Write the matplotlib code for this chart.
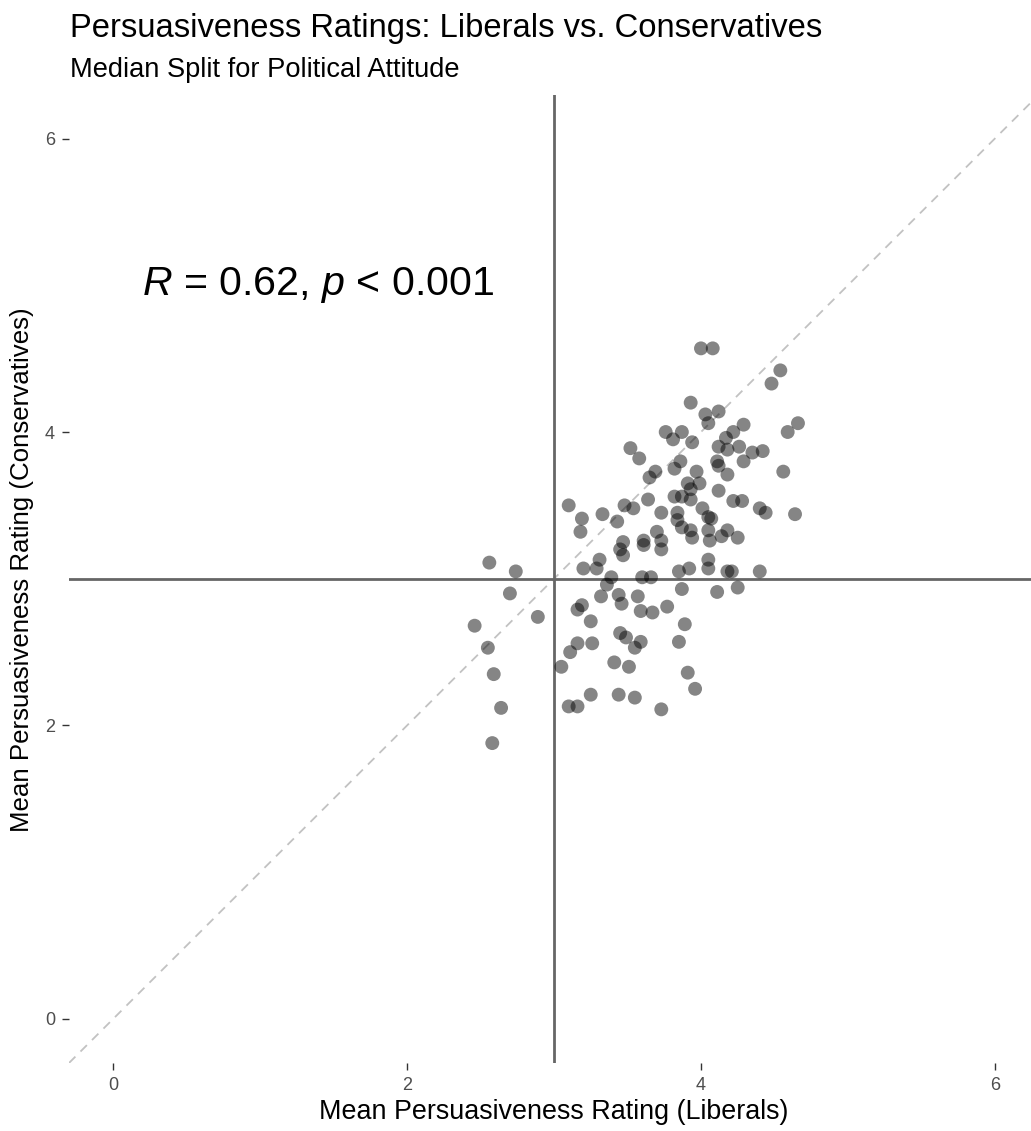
import numpy as np
import matplotlib.pyplot as plt

plt.rcParams["font.family"] = ["Liberation Sans", "DejaVu Sans"]
plt.rcParams["mathtext.fontset"] = "custom"
plt.rcParams["mathtext.rm"] = "Liberation Sans"
plt.rcParams["mathtext.it"] = "Liberation Sans:italic"

# mean persuasiveness per item
liberals = [
    4.00, 4.08, 4.54, 4.48, 3.93, 4.03, 4.12, 4.05, 4.29, 4.22, 4.17, 4.66, 4.59,
    3.76, 3.87, 3.81, 3.94, 3.52, 3.58, 4.12, 4.18, 4.26, 4.35, 4.42, 4.29, 3.86,
    3.82, 4.11, 4.12, 3.69, 3.65, 3.97, 4.18, 4.56, 3.91, 3.93, 3.99, 4.12, 3.82,
    3.87, 3.93, 3.64, 3.10, 3.48, 3.54, 3.73, 3.33, 3.19, 3.43, 3.84, 3.84, 4.22,
    4.28, 4.40, 4.44, 4.64, 4.01, 4.05, 4.07, 3.18, 3.70, 3.73, 3.47, 3.61, 3.87,
    3.93, 3.94, 4.18, 4.25, 4.14, 4.05, 4.06, 3.45, 3.47, 3.73, 3.61, 4.05, 4.05,
    3.20, 3.29, 3.31, 3.39, 3.36, 3.60, 3.66, 3.85, 3.92, 4.18, 4.21, 4.40, 3.32,
    3.44, 3.46, 3.57, 3.59, 3.67, 3.77, 3.87, 4.11, 4.25, 3.19, 3.16, 3.25, 3.89,
    3.16, 3.26, 3.45, 3.49, 3.59, 3.55, 3.85, 3.11, 3.05, 3.41, 3.51, 3.91, 3.96,
    3.25, 3.44, 3.55, 3.10, 3.16, 3.73, 2.56, 2.74, 2.70, 2.46, 2.89, 2.55, 2.59,
    2.64, 2.58,
]
conservatives = [
    4.57, 4.57, 4.42, 4.33, 4.20, 4.12, 4.14, 4.06, 4.05, 4.00, 3.96, 4.06, 4.00,
    4.00, 4.00, 3.95, 3.93, 3.89, 3.82, 3.90, 3.88, 3.90, 3.86, 3.87, 3.80, 3.80,
    3.75, 3.80, 3.77, 3.73, 3.69, 3.73, 3.71, 3.73, 3.65, 3.61, 3.65, 3.60, 3.56,
    3.56, 3.54, 3.54, 3.50, 3.50, 3.48, 3.45, 3.44, 3.41, 3.39, 3.45, 3.40, 3.53,
    3.53, 3.48, 3.45, 3.44, 3.48, 3.42, 3.41, 3.32, 3.32, 3.26, 3.25, 3.26, 3.35,
    3.33, 3.28, 3.33, 3.28, 3.29, 3.33, 3.26, 3.20, 3.16, 3.20, 3.23, 3.13, 3.07,
    3.07, 3.07, 3.13, 3.01, 2.96, 3.01, 3.01, 3.05, 3.07, 3.05, 3.05, 3.05, 2.88,
    2.89, 2.83, 2.88, 2.78, 2.77, 2.81, 2.93, 2.91, 2.94, 2.82, 2.79, 2.71, 2.69,
    2.56, 2.56, 2.63, 2.60, 2.57, 2.53, 2.57, 2.50, 2.40, 2.43, 2.40, 2.36, 2.25,
    2.21, 2.21, 2.19, 2.13, 2.13, 2.11, 3.11, 3.05, 2.90, 2.68, 2.74, 2.53, 2.35,
    2.12, 1.88,
]
median_lib = 3.0
median_con = 3.0
r_value = 0.62
ticks = [0, 2, 4, 6]

title = "Persuasiveness Ratings: Liberals vs. Conservatives"
subtitle = "Median Split for Political Attitude"
xlab = "Mean Persuasiveness Rating (Liberals)"
ylab = "Mean Persuasiveness Rating (Conservatives)"


def main():
    W, H = 1031, 1131
    fig = plt.figure(figsize=(W / 100, H / 100), dpi=100)
    # panel runs a little past the right edge, as in the original
    ax = fig.add_axes([69 / W, (H - 1063) / H, 970 / W, 968.5 / H])

    lim = (-0.3, 6.3)
    ax.plot(lim, lim, color="#c2c2c2", lw=1.3, ls=(0, (5, 4)), zorder=1)
    ax.axvline(median_lib, color="#666666", lw=2, zorder=2)
    ax.axhline(median_con, color="#666666", lw=2, zorder=2)
    ax.scatter(liberals, conservatives, s=100, color="black", alpha=0.48,
               edgecolors="none", zorder=3)

    ax.text(0.2, 5.0, rf"$\it{{R}}$ = {r_value:.2f}, $\it{{p}}$ < 0.001",
            fontsize=29.6, va="center", ha="left")

    ax.set_xlim(lim)
    ax.set_ylim(lim)
    ax.set_xticks(ticks)
    ax.set_yticks(ticks)
    for s in ax.spines.values():
        s.set_visible(False)
    ax.tick_params(length=5, width=1, color="#333333", labelcolor="#4D4D4D",
                   labelsize=13, pad=5)

    fig.text(70 / W, 1 - 28 / H, title, fontsize=23.6, va="center", ha="left")
    fig.text(70 / W, 1 - 70 / H, subtitle, fontsize=19.6, va="center", ha="left")
    fig.text(554 / W, 1 - 1112 / H, xlab, fontsize=19.4, va="center", ha="center")
    fig.text(22 / W, 1 - 570 / H, ylab, fontsize=18.6, va="center", ha="center",
             rotation=90)

    fig.savefig("out.png", dpi=100)


if __name__ == "__main__":
    main()
